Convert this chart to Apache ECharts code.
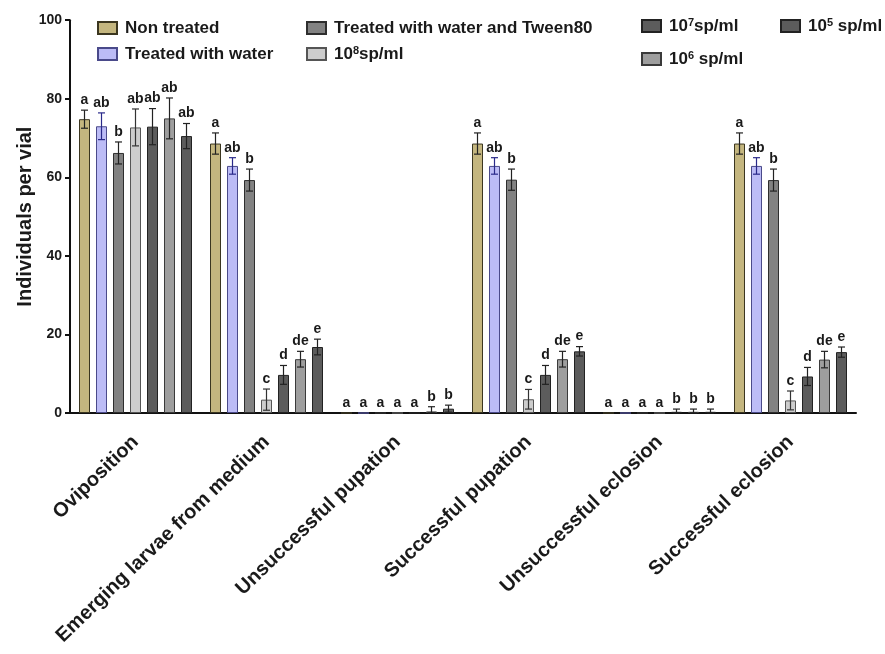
<!DOCTYPE html>
<html>
<head>
<meta charset="utf-8">
<script src="https://cdn.jsdelivr.net/npm/echarts@6/dist/echarts.min.js"></script>
<style>html,body{margin:0;padding:0;background:#fff}#c{width:885px;height:654px}</style>
</head>
<body>
<div id="c"></div>
<script>
const categories = ['Oviposition','Emerging larvae from medium','Unsuccessful pupation','Successful pupation','Unsuccessful eclosion','Successful eclosion'];
const treatments = ['Non treated','Treated with water','Treated with water and Tween80','10^8sp/ml','10^7sp/ml','10^6 sp/ml','10^5 sp/ml'];
const yTicks = [0, 20, 40, 60, 80, 100];

const nonTreated     = [74.8, 68.6, 0,   68.6, 0,   68.6];
const nonTreatedSd   = [2.3,  2.7,  0,   2.7,  0,   2.7];
const water          = [73.0, 62.9, 0,   62.9, 0,   62.9];
const waterSd        = [3.4,  2.1,  0,   2.1,  0,   2.1];
const tween          = [66.2, 59.3, 0,   59.4, 0,   59.3];
const tweenSd        = [2.8,  2.8,  0,   2.7,  0,   2.8];
const sp8            = [72.7, 3.4,  0,   3.5,  0,   3.2];
const sp8Sd          = [4.7,  2.7,  0,   2.5,  0,   2.4];
const sp7            = [72.9, 9.7,  0,   9.7,  0.3, 9.3];
const sp7Sd          = [4.6,  2.4,  0,   2.4,  0.7, 2.3];
const sp6            = [75.0, 13.7, 0.4, 13.7, 0.3, 13.6];
const sp6Sd          = [5.2,  2.0,  1.2, 2.0,  0.7, 2.1];
const sp5            = [70.5, 16.8, 1.1, 15.7, 0.3, 15.5];
const sp5Sd          = [3.2,  2.0,  0.9, 1.2,  0.7, 1.3];

const lettersNon   = ['a','a','a','a','a','a'];
const lettersWater = ['ab','ab','a','ab','a','ab'];
const lettersTween = ['b','b','a','b','a','b'];
const letters8     = ['ab','c','a','c','a','c'];
const letters7     = ['ab','d','a','d','b','d'];
const letters6     = ['ab','de','b','de','b','de'];
const letters5     = ['ab','e','b','e','b','e'];

const means = [nonTreated, water, tween, sp8, sp7, sp6, sp5];
const sds = [nonTreatedSd, waterSd, tweenSd, sp8Sd, sp7Sd, sp6Sd, sp5Sd];
const letters = [lettersNon, lettersWater, lettersTween, letters8, letters7, letters6, letters5];

const fills   = ['#c4b67f','#bcbcf6','#828282','#cdcdcd','#5c5c5c','#9e9e9e','#5c5c5c'];
const borders = ['#3b3620','#4a4a8a','#2e2e2e','#555555','#222222','#3a3a3a','#222222'];
const errCols = ['#222','#2a2a8a','#222','#333','#222','#222','#222'];

const BAR_W = 11, GAP = 6, PITCH = BAR_W + GAP;
const FONT = '"Liberation Sans", Arial, sans-serif';

const series = [];
treatments.forEach((name, i) => {
  series.push({
    type: 'bar', name: name, data: means[i],
    barWidth: BAR_W, barGap: (GAP / BAR_W * 100) + '%',
    itemStyle: { color: fills[i], borderColor: borders[i], borderWidth: 1 },
    emphasis: { disabled: true }, z: 2
  });
});
treatments.forEach((name, i) => {
  series.push({
    type: 'custom', name: 'err' + i, z: 5,
    data: categories.map((c, k) => [k, means[i][k], sds[i][k]]),
    renderItem: function (params, api) {
      const k = api.value(0), m = api.value(1), s = api.value(2);
      const cx = api.coord([k, 0])[0] + (i - 3) * PITCH;
      const yT = api.coord([k, m + s])[1];
      const yB = api.coord([k, Math.max(m - s, 0)])[1];
      const ch = [];
      const ls = { stroke: errCols[i], lineWidth: 1.2 };
      if (s > 0) {
        ch.push({ type: 'line', shape: { x1: cx, y1: yT, x2: cx, y2: yB }, style: ls });
        ch.push({ type: 'line', shape: { x1: cx - 3.5, y1: yT, x2: cx + 3.5, y2: yT }, style: ls });
        ch.push({ type: 'line', shape: { x1: cx - 3.5, y1: yB, x2: cx + 3.5, y2: yB }, style: ls });
      }
      ch.push({ type: 'text', style: {
        text: letters[i][params.dataIndex], x: cx, y: yT - 3,
        align: 'center', verticalAlign: 'bottom',
        fontSize: 14, fontWeight: 'bold', fontFamily: FONT, fill: '#1a1a1a' } });
      return { type: 'group', children: ch };
    }
  });
});

const base = { fontSize: 17, fontWeight: 'bold', fontFamily: FONT, color: '#1a1a1a' };
const legendText = Object.assign({}, base, { lineHeight: 20,
  rich: {
    sup: Object.assign({}, base, { fontSize: 11, verticalAlign: 'bottom', padding: [0, 0, 8, 0] }),
    t: Object.assign({}, base, { padding: [0, 0, 0, 3] }),
    u: Object.assign({}, base)
  }
});
function fmt(n) {
  const m = n.match(/^10\^(\d)(.*)$/);
  if (m) return '{t|10}{sup|' + m[1] + '}{u|' + m[2].replace(/ /g, '\u00a0') + '}';
  return '{t|' + n + '}';
}
function mkLegend(data, left, top, gap) {
  return { data: data, left: left, top: top, orient: 'vertical', itemGap: gap, padding: 0,
    icon: 'rect', itemWidth: 19, itemHeight: 12, selectedMode: false, formatter: fmt, textStyle: legendText };
}

const chart = echarts.init(document.getElementById('c'));
chart.setOption({
  animation: false,
  backgroundColor: '#fff',
  legend: [
    mkLegend([treatments[0], treatments[1]], 97, 18, 6),
    mkLegend([treatments[2], treatments[3]], 306, 18, 6),
    mkLegend([treatments[4], treatments[5]], 641, 16, 13),
    mkLegend([treatments[6]], 780, 16, 13)
  ],
  grid: { left: 70, right: 29, top: 20.2, bottom: 241, containLabel: false, outerBoundsMode: 'none' },
  xAxis: {
    type: 'category', data: categories,
    axisLine: { lineStyle: { color: '#111', width: 2 } },
    axisTick: { alignWithLabel: true, length: 6, lineStyle: { color: '#111', width: 2 } },
    axisLabel: { rotate: 44, interval: 0, margin: 26, fontSize: 20, fontWeight: 'bold', fontFamily: FONT, color: '#1a1a1a' }
  },
  yAxis: {
    type: 'value', min: 0, max: 100, interval: 20,
    name: 'Individuals per vial', nameLocation: 'middle', nameGap: 35, nameRotate: 90, nameMoveOverlap: false,
    nameTextStyle: { fontSize: 20, fontWeight: 'bold', fontFamily: FONT, color: '#1a1a1a' },
    axisLine: { show: true, lineStyle: { color: '#111', width: 2 } },
    axisTick: { show: true, length: 5, lineStyle: { color: '#111', width: 2 } },
    splitLine: { show: false },
    axisLabel: { margin: 8, fontSize: 14, fontWeight: 'bold', fontFamily: FONT, color: '#1a1a1a',
      formatter: v => yTicks.indexOf(v) >= 0 ? String(v) : '' }
  },
  series: series
});
</script>
</body>
</html>
